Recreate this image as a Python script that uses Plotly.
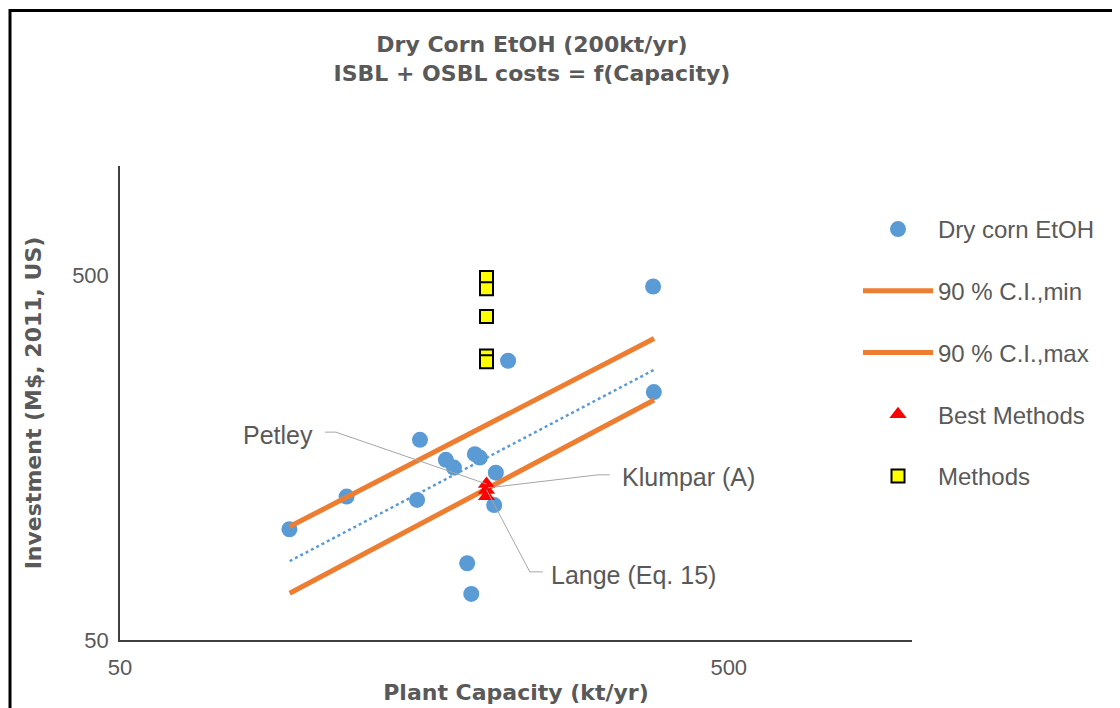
import math
import plotly.graph_objects as go

# ---------------- data ----------------
capacity_dry = [94.9, 117.8, 155.5, 153.8, 171.5, 176.8, 191.4, 195.0, 207.2, 205.9, 185.9, 188.8, 217.0, 375.6, 376.6]
invest_dry = [100.7, 123.8, 177.2, 121.2, 156.1, 148.7, 161.8, 158.4, 144.0, 117.3, 81.2, 66.9, 292.0, 467.0, 239.6]

ci_x = [95, 377]
ci_min = [67.2, 228.0]
ci_max = [102.4, 336.0]

trend_x = [95, 377]
trend_y = [82.3, 275.8]

best_x = [200, 200, 200]
best_y = [134, 129, 124]

methods_x = [200, 200, 200, 200, 200]
methods_y = [494, 460, 386, 301, 290]

x_ticks = [50, 500]
x_ticktext = ["50", "500"]
y_ticks = [50, 500]
y_ticktext = ["50", "500"]

# label anchors (data coords) and leader lines
labels = [
    # text, x, y, xanchor
    ("Petley", 104.5, 183, "right"),
    ("Klumpar (A)", 331, 140, "left"),
    ("Lange (Eq. 15)", 253, 75.4, "left"),
]
leaders = [
    ([108.6, 113.1, 200], [186, 186, 134]),
    ([318.8, 304.6, 201], [142, 142, 130.8]),
    ([247.5, 235.6, 200], [76.9, 76.9, 129.2]),
]

TXT = "#595959"
REG = "Liberation Sans, Arial, sans-serif"
BOLD = "DejaVu Sans, Arial, sans-serif"

fig = go.Figure()

fig.add_trace(go.Scatter(
    x=capacity_dry, y=invest_dry, mode="markers", name="Dry corn EtOH",
    marker=dict(symbol="circle", size=16, color="#5B9BD5"),
    legendgroup="a", legendrank=1,
))
fig.add_trace(go.Scatter(
    x=ci_x, y=ci_min, mode="lines", name="90 % C.I.,min",
    line=dict(color="#ED7D31", width=5), legendgroup="b", legendrank=2,
))
fig.add_trace(go.Scatter(
    x=ci_x, y=ci_max, mode="lines", name="90 % C.I.,max",
    line=dict(color="#ED7D31", width=5), legendgroup="c", legendrank=3,
))
fig.add_trace(go.Scatter(
    x=trend_x, y=trend_y, mode="lines", name="trend", showlegend=False,
    line=dict(color="#5B9BD5", width=2.5, dash="dot"),
))
fig.add_trace(go.Scatter(
    x=methods_x, y=methods_y, mode="markers", name="Methods",
    marker=dict(symbol="square", size=13, color="#FFFF00",
                line=dict(color="#000000", width=2)),
    legendgroup="e", legendrank=5,
))
fig.add_trace(go.Scatter(
    x=best_x, y=best_y, mode="markers", name="Best Methods",
    marker=dict(symbol="triangle-up", size=15, color="#FF0000"),
    legendgroup="d", legendrank=4,
))

for lx, ly in leaders:
    fig.add_trace(go.Scatter(
        x=lx, y=ly, mode="lines", showlegend=False, hoverinfo="skip",
        line=dict(color="#A6A6A6", width=1),
    ))

annotations = []
for text, x, y, anchor in labels:
    annotations.append(dict(
        text=text, x=math.log10(x), y=math.log10(y), xref="x", yref="y",
        xanchor=anchor, yanchor="middle", showarrow=False,
        font=dict(family=REG, size=25, color=TXT),
    ))

# page body has an 8px margin; figure is sized to fill the rest of the window
OFF = 8
W, H = 1120 - OFF, 708 - OFF
L, T = 120 - OFF, 166 - OFF
R = W - (912 - OFF)
B = H - (640 - OFF)
pw, ph = W - L - R, H - T - B


def px_to_paper_x(sx):
    return (sx - OFF - L) / pw


def px_to_paper_y(sy):
    return (H - B - (sy - OFF)) / ph


fig.update_layout(
    width=W, height=H,
    margin=dict(l=L, r=R, t=T, b=B, autoexpand=False),
    paper_bgcolor="white", plot_bgcolor="white",
    title=dict(
        text="Dry Corn EtOH (200kt/yr)<br>ISBL + OSBL costs = f(Capacity)",
        x=px_to_paper_x(532), xref="paper", xanchor="center",
        y=1 - 44 / H, yref="container", yanchor="top",
        font=dict(family=BOLD, size=22, color=TXT, weight="bold"),
    ),
    xaxis=dict(
        type="log", range=[math.log10(50), math.log10(1000)],
        tickvals=x_ticks, ticktext=x_ticktext,
        showgrid=False, zeroline=False, showline=True,
        linecolor="#404040", linewidth=1.5, ticks="",
        ticklabelstandoff=7,
        tickfont=dict(family=REG, size=22, color=TXT),
        title=dict(text="Plant Capacity (kt/yr)", standoff=5,
                   font=dict(family=BOLD, size=22, color=TXT, weight="bold")),
    ),
    yaxis=dict(
        type="log", range=[math.log10(50), math.log10(1000)],
        tickvals=y_ticks, ticktext=y_ticktext,
        showgrid=False, zeroline=False, showline=True,
        linecolor="#404040", linewidth=1.5, ticks="",
        ticklabelstandoff=5,
        tickfont=dict(family=REG, size=22, color=TXT),
        title=dict(text="Investment (M$, 2011, US)", standoff=24,
                   font=dict(family=BOLD, size=22, color=TXT, weight="bold")),
    ),
    legend=dict(
        x=px_to_paper_x(858), xanchor="left",
        y=px_to_paper_y(207), yanchor="top",
        font=dict(family=REG, size=24, color=TXT),
        itemwidth=70, tracegroupgap=27.5, traceorder="grouped",
        bgcolor="rgba(0,0,0,0)", borderwidth=0,
    ),
    annotations=annotations,
    shapes=[dict(
        type="rect", xref="paper", yref="paper",
        x0=px_to_paper_x(10), x1=px_to_paper_x(1130),
        y0=px_to_paper_y(720), y1=px_to_paper_y(10.5),
        line=dict(color="black", width=3), fillcolor="rgba(0,0,0,0)",
        layer="above",
    )],
    showlegend=True,
)

fig.write_html("out.html")
